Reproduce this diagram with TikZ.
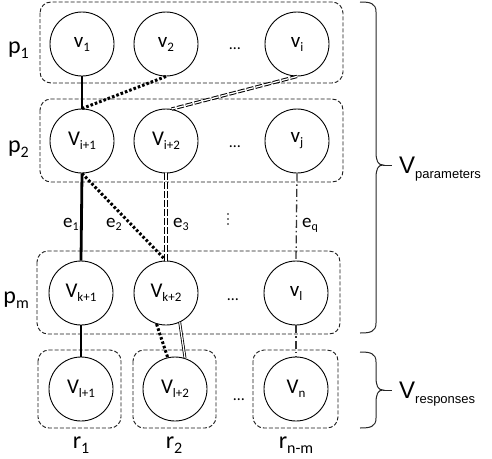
\documentclass[tikz,border=0pt]{standalone}
\usepackage{fontspec}
\setmainfont{Carlito}
\newfontfamily\arialfam{Liberation Sans}
\newcommand\fsz[1]{\fontsize{#1}{#1}\selectfont}
\newcommand\sbx[3]{\raisebox{-#1pt}{\fsz{#2}#3}}
\begin{document}
\begin{tikzpicture}[x=1pt,y=-1pt,
  vnode/.style={circle,draw,line width=0.9pt,minimum size=64pt,inner sep=0pt,font=\fsz{21}},
  grp/.style={draw=black!90,line width=0.9pt,dash pattern=on 4pt off 2pt,rounded corners=11pt},
  thickline/.style={line width=2.8pt},
  dotline/.style={line width=3pt,dash pattern=on 2.6pt off 2pt},
  ddash/.style={double,double distance=1.3pt,line width=1pt,dash pattern=on 7pt off 2pt},
  dsolid/.style={double,double distance=1.2pt,line width=0.8pt},
  dashdot/.style={line width=1.3pt,draw=black!80,dash pattern=on 8pt off 3pt on 1.5pt off 3pt},
  bracec/.style={line width=1pt,draw=black!85},
  plab/.style={font=\fsz{24},anchor=base east,inner sep=0pt},
  rlab/.style={font=\fsz{24},anchor=base,inner sep=0pt},
  elab/.style={font=\fsz{19},anchor=base,inner sep=0pt},
  dotlab/.style={font=\fsz{16},anchor=base,inner sep=0pt},
  vlab/.style={font=\arialfam\fsz{24},anchor=base west,inner sep=0pt}
]
\useasboundingbox (0,0) rectangle (492,458);

% group boxes
\draw[grp] (40,2) rectangle (343,83);
\draw[grp] (40,99) rectangle (343,182);
\draw[grp] (37,251) rectangle (340,334);
\draw[grp] (38,350) rectangle (121,428);
\draw[grp] (133,350) rectangle (216,428);
\draw[grp] (253,350) rectangle (338,428);

% nodes
\node[vnode] (v1) at (82,44) {v\sbx{4}{13}{1}};
\node[vnode] (v2) at (166,44) {v\sbx{4}{13}{2}};
\node[vnode] (vi) at (297,44) {v\sbx{4}{13}{i}};
\node[vnode] (vi1) at (82,141) {V\sbx{4}{13}{i+1}};
\node[vnode] (vi2) at (166,141) {V\sbx{4}{13}{i+2}};
\node[vnode] (vj) at (297,141) {v\sbx{4}{13}{j}};
\node[vnode] (vk1) at (81,293) {V\sbx{4}{13}{k+1}};
\node[vnode] (vk2) at (166,293) {V\sbx{4}{13}{k+2}};
\node[vnode] (vl) at (296,293) {v\sbx{4}{13}{l}};
\node[vnode] (vl1) at (81,389) {V\sbx{4}{13}{l+1}};
\node[vnode] (vl2) at (175,389) {V\sbx{4}{13}{l+2}};
\node[vnode] (vn) at (296,389) {V\sbx{4}{13}{n}};

% dots
\node[dotlab] (d1) at (235,49) {…};
\node[dotlab] (d2) at (235,147) {…};
\node[dotlab] (d3) at (233,300) {…};
\node[dotlab] (d4) at (239,400) {…};
\fill (228,214) circle (0.8pt) (228,219) circle (0.8pt) (228,224) circle (0.8pt);

% row labels
\node[plab] (p1) at (29,53) {p\sbx{5}{16}{1}};
\node[plab] (p2) at (29,152) {p\sbx{5}{16}{2}};
\node[plab] (pm) at (29,303) {p\sbx{5}{16}{m}};
\node[rlab] (r1) at (81,448) {r\sbx{5}{16}{1}};
\node[rlab] (r2) at (174,448) {r\sbx{5}{16}{2}};
\node[rlab] (rnm) at (296,448) {r\sbx{5}{16}{n-m}};

% edge labels
\node[elab] (e1) at (71,227) {e\sbx{3}{12}{1}};
\node[elab] (e2) at (114,227) {e\sbx{3}{12}{2}};
\node[elab] (e3) at (181,227) {e\sbx{3}{12}{3}};
\node[elab] (eq) at (310,227) {e\sbx{3}{12}{q}};

% edges
\draw[thickline] (v1.south) -- (vi1.north);
\draw[thickline] (vi1.south) -- (vk1.north);
\draw[thickline] (vk1.south) -- (vl1.north);
\draw[dotline] (v2.south) -- (vi1.north);
\draw[dotline] (vi1.south) -- (vk2.north);
\draw[dotline] (vk2.-107) -- (vl2.103);
\draw[ddash] (vi.south) -- (vi2.80);
\draw[ddash] (vi2.south) -- (vk2.north);
\draw[dsolid] (vk2.-65) -- (vl2.72);
\draw[dashdot] (vj.south) -- (vl.north);
\draw[dashdot] (vl.south) -- (vn.north);

% braces
\coordinate (tip1) at (383,165);
\coordinate (tip2) at (383,390);
\draw[bracec] (360,2) .. controls (370,2) and (376,3) .. (376,12) -- (376,152) .. controls (376,161) and (378,165) .. (tip1) .. controls (378,165) and (376,169) .. (376,178) -- (376,323) .. controls (376,332) and (370,333) .. (360,333);
\draw[bracec] (360,352) .. controls (370,352) and (376,353) .. (376,362) -- (376,377) .. controls (376,386) and (378,390) .. (tip2) .. controls (378,390) and (376,394) .. (376,403) -- (376,418) .. controls (376,427) and (370,428) .. (360,428);
\node[vlab] (Vp) at (399,173) {V\sbx{5}{13}{parameters}};
\node[vlab] (Vr) at (399,398) {V\sbx{5}{13}{responses}};
\draw[bracec] (tip1) -- ++(9,0);
\draw[bracec] (tip2) -- ++(9,0);
\end{tikzpicture}
\end{document}
